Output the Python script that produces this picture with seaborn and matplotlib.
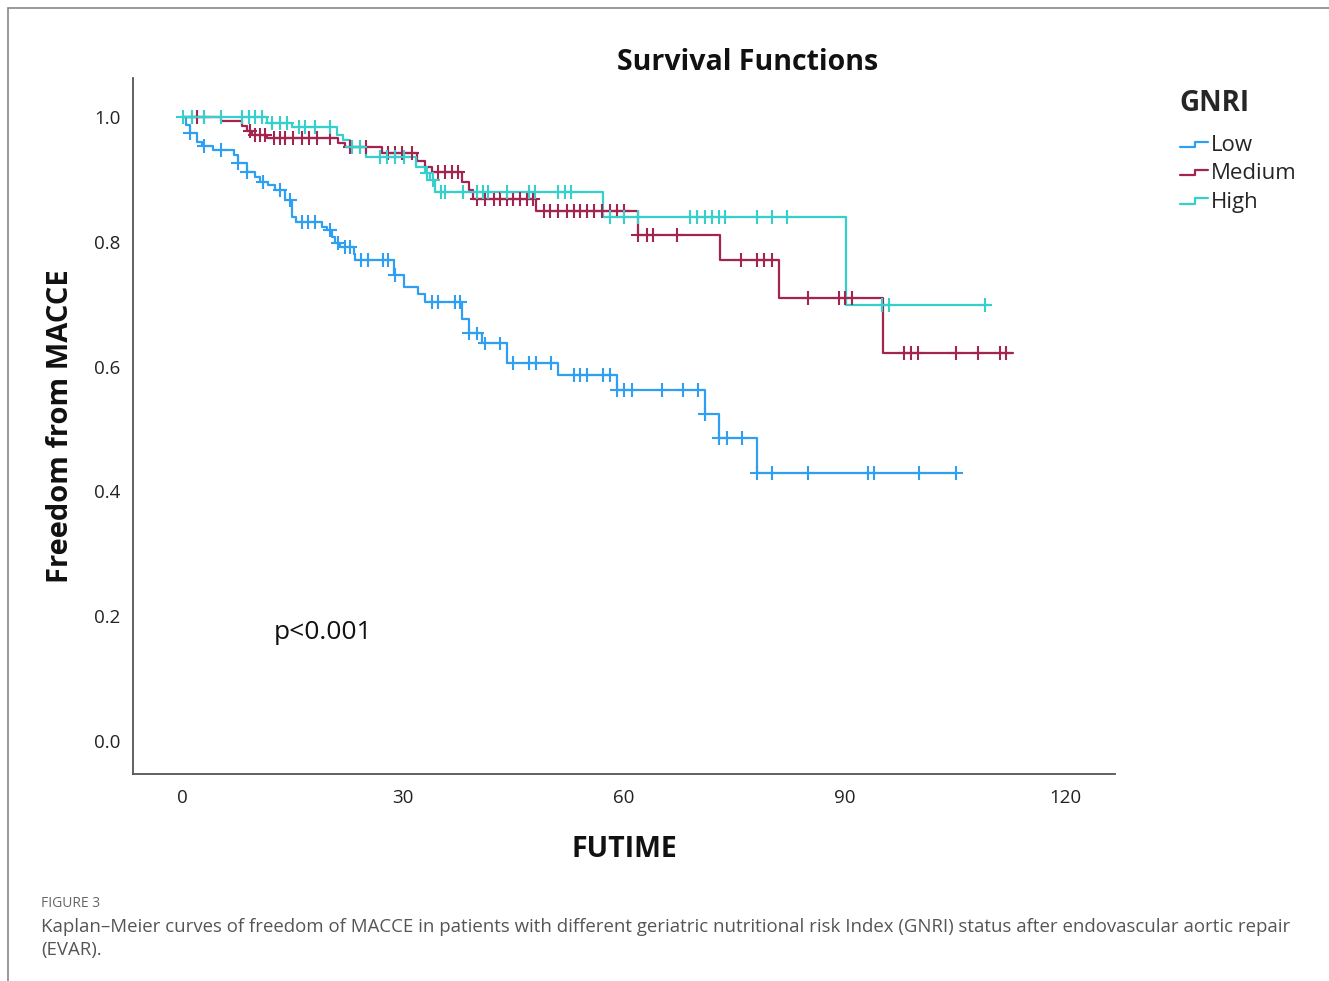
import numpy as np
import pandas as pd
import seaborn as sns
import matplotlib
matplotlib.use('Agg')
import matplotlib.pyplot as plt
from matplotlib.lines import Line2D
from matplotlib.legend_handler import HandlerBase

# Kaplan-Meier step points (time of drop, survival after drop)
groups = ['Low', 'Medium', 'High']

low_t = [0, 0.5, 1.0, 2.0, 2.7, 4.2, 7.0, 7.6, 8.8, 9.9, 10.6, 11.7, 12.6, 14.0, 14.9, 15.4,
         19.0, 19.7, 20.3, 20.8, 21.5, 23.3, 23.5, 28.8, 30.1, 32.1, 33.0, 38.0, 38.9, 40.7,
         44.1, 51.1, 59.1, 71.1, 73.0, 78.1, 105.2]
low_s = [1.0, 0.987, 0.974, 0.960, 0.954, 0.947, 0.939, 0.926, 0.912, 0.904, 0.896, 0.891, 0.883,
         0.867, 0.840, 0.832, 0.824, 0.819, 0.808, 0.798, 0.792, 0.781, 0.771, 0.747, 0.727, 0.717,
         0.704, 0.677, 0.653, 0.637, 0.606, 0.587, 0.562, 0.524, 0.485, 0.430, 0.430]
low_cens = [1.1, 2.9, 5.2, 7.6, 8.8, 10.9, 13.3, 14.7, 16.3, 17.1, 18.1, 20.1, 21.2, 22.1, 22.8,
            24.3, 25.3, 27.3, 28.0, 28.9, 33.9, 34.8, 37.1, 37.8, 38.9, 40.0, 41.2, 43.2, 45.0,
            47.1, 48.1, 50.1, 53.2, 54.1, 55.0, 57.2, 58.2, 59.1, 60.1, 61.1, 65.2, 68.1, 70.1,
            71.1, 73.0, 74.0, 76.1, 78.1, 80.1, 85.1, 93.2, 94.0, 100.2, 105.2]

med_t = [0, 5.2, 8.1, 8.8, 9.5, 11.5, 21.2, 22.1, 27.1, 31.9, 33.0, 33.9, 38.0, 39.0, 39.5,
         48.1, 62.0, 73.1, 81.1, 95.2, 112.9]
med_s = [1.0, 0.993, 0.985, 0.977, 0.971, 0.966, 0.958, 0.952, 0.942, 0.929, 0.920, 0.912,
         0.896, 0.883, 0.869, 0.849, 0.811, 0.771, 0.710, 0.622, 0.622]
med_cens = [1.3, 2.0, 2.9, 9.2, 9.9, 10.6, 11.3, 12.4, 13.3, 14.0, 15.1, 16.3, 17.2, 18.3, 20.1,
            22.8, 24.2, 24.9, 28.0, 28.9, 29.9, 31.2, 34.8, 35.7, 36.6, 37.5, 40.0, 41.2, 42.3,
            43.2, 44.1, 45.0, 45.9, 46.8, 47.7, 49.1, 50.0, 51.1, 52.3, 53.2, 54.1, 55.0, 55.9,
            57.0, 58.2, 59.1, 60.0, 62.0, 63.1, 64.0, 67.2, 76.0, 78.1, 79.1, 80.1, 85.1, 89.2,
            90.1, 91.0, 98.1, 99.1, 100.0, 105.1, 108.1, 111.1, 112.0]

high_t = [0, 11.5, 14.9, 21.0, 21.9, 22.8, 24.9, 31.7, 33.0, 33.7, 34.4, 57.2, 90.2, 109.8]
high_s = [1.0, 0.990, 0.984, 0.971, 0.963, 0.952, 0.936, 0.920, 0.910, 0.899, 0.880, 0.839,
          0.699, 0.699]
high_cens = [0.1, 1.3, 2.9, 5.2, 8.1, 9.0, 9.9, 10.8, 12.2, 13.3, 14.2, 15.8, 16.7, 18.1, 20.1,
             23.1, 24.2, 26.9, 27.8, 28.9, 30.1, 33.2, 34.1, 35.1, 35.7, 38.2, 40.0, 40.9, 41.6,
             44.1, 47.1, 48.0, 51.1, 52.0, 52.9, 58.2, 60.0, 62.0, 69.0, 69.9, 71.1, 72.0, 72.9,
             73.8, 78.1, 80.1, 82.2, 95.1, 96.0, 109.1]

x_ticks = [0, 30, 60, 90, 120]
y_ticks = [0.0, 0.2, 0.4, 0.6, 0.8, 1.0]

palette = {'Low': '#2f9ff2', 'Medium': '#a2244f', 'High': '#35d0cb'}

steps = pd.concat([
    pd.DataFrame({'time': low_t, 'surv': low_s, 'GNRI': 'Low'}),
    pd.DataFrame({'time': med_t, 'surv': med_s, 'GNRI': 'Medium'}),
    pd.DataFrame({'time': high_t, 'surv': high_s, 'GNRI': 'High'}),
], ignore_index=True)


def censor_frame(t, s, cens, name):
    t = np.asarray(t)
    idx = np.searchsorted(t, cens, side='right') - 1
    return pd.DataFrame({'time': cens, 'surv': np.asarray(s)[idx], 'GNRI': name})


cens = pd.concat([
    censor_frame(low_t, low_s, low_cens, 'Low'),
    censor_frame(med_t, med_s, med_cens, 'Medium'),
    censor_frame(high_t, high_s, high_cens, 'High'),
], ignore_index=True)


class StepHandler(HandlerBase):
    def create_artists(self, legend, orig_handle, xdescent, ydescent, width, height, fontsize, trans):
        x0, x1 = -xdescent, -xdescent + width
        y0, y1 = -ydescent + 0.25 * height, -ydescent + 0.6 * height
        xm = x0 + 0.55 * width
        ln = Line2D([x0, xm, xm, x1], [y0, y0, y1, y1], color=orig_handle.get_color(),
                    lw=orig_handle.get_linewidth(), transform=trans)
        return [ln]


sns.set_theme(style='white')
plt.rcParams['font.family'] = ['Open Sans', 'DejaVu Sans']

fig = plt.figure(figsize=(13.29, 9.81), dpi=100)
ax = fig.add_axes([0.1001, 0.211, 0.739, 0.7095])

sns.lineplot(data=steps, x='time', y='surv', hue='GNRI', palette=palette, estimator=None,
             drawstyle='steps-post', linewidth=1.6, legend=False, ax=ax, sort=False)
sns.scatterplot(data=cens, x='time', y='surv', hue='GNRI', palette=palette, marker='+',
                s=100, linewidth=1.5, legend=False, ax=ax, zorder=3)

ax.set_xlim(-6.7, 126.8)
ax.set_ylim(-0.053, 1.0625)
ax.set_xticks(x_ticks)
ax.set_yticks(y_ticks)
ax.set_yticklabels([f'{v:.1f}' for v in y_ticks])
ax.tick_params(axis='both', length=0, labelsize=13.5, colors='#222222', pad=9)
ax.tick_params(axis='x', pad=11)
for side in ['top', 'right']:
    ax.spines[side].set_visible(False)
for side in ['left', 'bottom']:
    ax.spines[side].set_color('#555555')
    ax.spines[side].set_linewidth(1.3)

ax.set_title('Survival Functions', fontsize=20.5, fontweight='bold', color='#111111',
             x=0.626, pad=6)
ax.set_xlabel('FUTIME', fontsize=20.5, fontweight='bold', color='#111111', labelpad=20)
ax.set_ylabel('Freedom from MACCE', fontsize=21, fontweight='bold', color='#111111', labelpad=14)
ax.text(12.4, 0.173, 'p<0.001', fontsize=19, color='#111111', va='center')

handles = [Line2D([], [], color=palette[g], lw=1.6) for g in groups]
leg = fig.legend(handles, groups, loc='upper left', bbox_to_anchor=(0.881, 0.918),
                 title='GNRI', frameon=False, fontsize=16, handlelength=1.25,
                 handletextpad=0.15, labelspacing=0.33, borderaxespad=0,
                 handler_map={Line2D: StepHandler()})
leg.get_title().set_fontsize(20)
leg.get_title().set_fontweight('bold')
leg._legend_box.align = 'left'
leg._legend_box.sep = 12

# page border and caption
fig.add_artist(Line2D([0.006, 1.0], [0.992, 0.992], color='#888888', lw=1.2))
fig.add_artist(Line2D([0.006, 0.006], [0.0, 0.992], color='#888888', lw=1.2))
fig.text(0.031, 0.075, 'FIGURE 3', fontsize=10, color='#666666')
fig.text(0.031, 0.050, 'Kaplan\u2013Meier curves of freedom of MACCE in patients with different geriatric '
         'nutritional risk Index (GNRI) status after endovascular aortic repair',
         fontsize=13.4, color='#555555')
fig.text(0.031, 0.026, '(EVAR).', fontsize=13.4, color='#555555')

fig.savefig('out.png', dpi=100)
